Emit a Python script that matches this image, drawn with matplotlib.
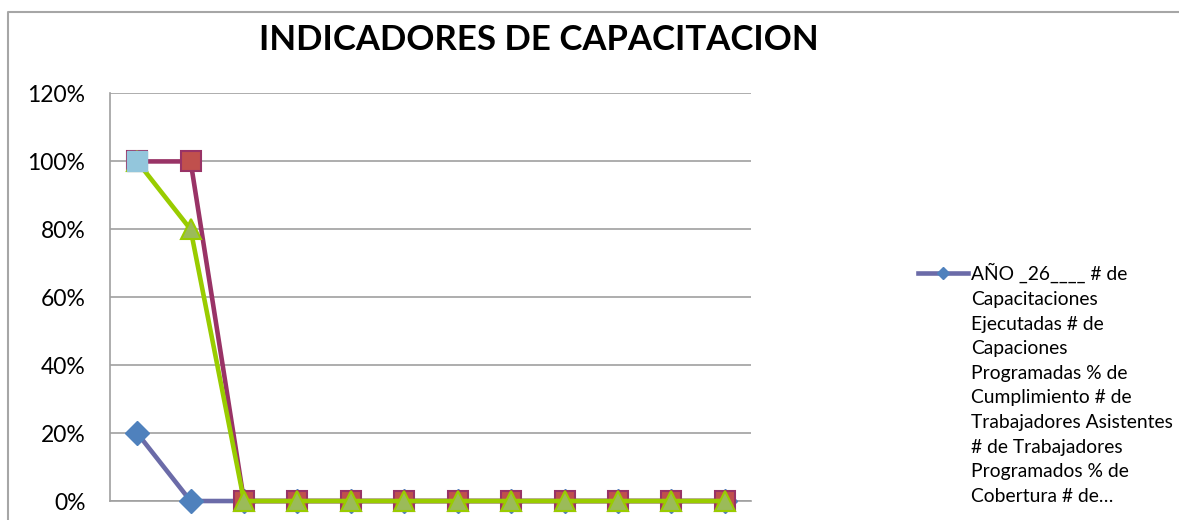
import numpy as np
import matplotlib
matplotlib.use("Agg")
import matplotlib.pyplot as plt
from matplotlib.lines import Line2D
from matplotlib.ticker import PercentFormatter

plt.rcParams['font.family'] = ['Lato', 'DejaVu Sans']

periodos = list(range(1, 13))
ejecutadas = [0.20, 0.0, 0.0, 0.0, 0.0, 0.0, 0.0, 0.0, 0.0, 0.0, 0.0, 0.0]
cumplimiento = [1.00, 1.00, 0.0, 0.0, 0.0, 0.0, 0.0, 0.0, 0.0, 0.0, 0.0, 0.0]
cobertura = [1.00, 0.80, 0.0, 0.0, 0.0, 0.0, 0.0, 0.0, 0.0, 0.0, 0.0, 0.0]
asistentes = [1.00] + [np.nan] * 11
yticks = [0, 0.2, 0.4, 0.6, 0.8, 1.0, 1.2]

leyenda = ("AÑO _26____ # de\nCapacitaciones\nEjecutadas # de\nCapaciones\n"
           "Programadas % de\nCumplimiento # de\nTrabajadores Asistentes\n"
           "# de Trabajadores\nProgramados % de\nCobertura # de…")

fig = plt.figure(figsize=(11.79, 5.2), dpi=100)
ax = fig.add_axes([0.0937, 0.0365, 0.5437, 0.7837])

x = np.arange(len(periodos))
ax.plot(x, ejecutadas, color='#6B6BA8', lw=3.3, marker='D', ms=12,
        mfc='#4F81BD', mec='#4F81BD', zorder=3, clip_on=False)
ax.plot(x, cumplimiento, color='#993366', lw=3.3, marker='s', ms=14,
        mfc='#C0504D', mec='#993366', mew=1.5, zorder=4, clip_on=False)
ax.plot(x, cobertura, color='#99CC00', lw=3.3, marker='^', ms=15,
        mfc='#9BBB59', mec='#99CC00', mew=1.5, zorder=5, clip_on=False)
ax.plot(x, asistentes, color='#93C6DC', lw=3.3, marker='s', ms=14,
        mfc='#93C6DC', mec='#93C6DC', zorder=6, clip_on=False)

ax.set_xlim(-0.5, len(periodos) - 0.5)
ax.set_ylim(0, 1.2)
ax.set_yticks(yticks)
ax.yaxis.set_major_formatter(PercentFormatter(1.0, decimals=0))
ax.set_xticks([])
ax.tick_params(axis='y', length=0, pad=18, labelsize=16.5)
ax.grid(axis='y', color='#A0A0A0', lw=1.2)
ax.set_axisbelow(True)
for s in ['top', 'right']:
    ax.spines[s].set_visible(False)
for s in ['left', 'bottom']:
    ax.spines[s].set_color('#A0A0A0')
    ax.spines[s].set_linewidth(1.2)

fig.text(539 / 1179, 1 - 40 / 520, "INDICADORES DE CAPACITACION", ha='center', va='center',
         fontsize=25, fontweight='bold')

# legend drawn by hand: sample line next to the first text line
fig.add_artist(Line2D([918 / 1179, 968 / 1179], [1 - 273 / 520] * 2, color='#6B6BA8',
                      lw=3.3, transform=fig.transFigure))
fig.add_artist(Line2D([943 / 1179], [1 - 273 / 520], marker='D', ms=6, color='#4F81BD',
                      transform=fig.transFigure))
fig.text(971 / 1179, 1 - 263 / 520, leyenda, ha='left', va='top', fontsize=13.9,
         linespacing=1.545)

# chart frame
fig.add_artist(Line2D([8 / 1179, 8 / 1179, 1.0], [0.0, 1 - 11.5 / 520, 1 - 11.5 / 520],
                      color='#A6A6A6', lw=1.5, transform=fig.transFigure))

fig.savefig("out.png", dpi=100)
